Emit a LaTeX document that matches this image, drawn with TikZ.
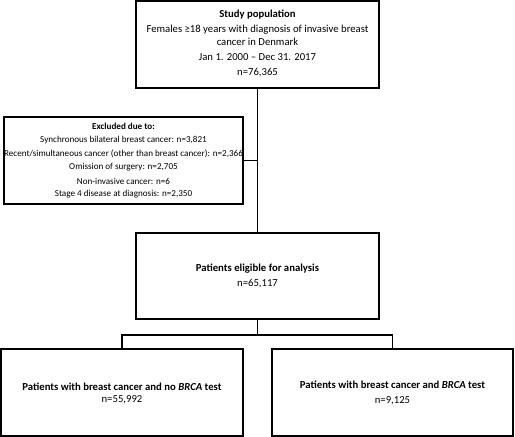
\documentclass[tikz,border=0pt]{standalone}
\usepackage{fontspec}
\setmainfont{Carlito}
\begin{document}
\begin{tikzpicture}[x=1pt,y=-1pt,
  boxstyle/.style={draw, line width=1.1pt, inner sep=0pt, fill=white},
  txt/.style={inner sep=0pt, font=\fontsize{10.7}{12}\selectfont},
  boldtxt/.style={inner sep=0pt, font=\fontsize{10.7}{12}\selectfont\bfseries},
  smalltxt/.style={inner sep=0pt, font=\fontsize{9.1}{11}\selectfont},
  smallbold/.style={inner sep=0pt, font=\fontsize{9.1}{11}\selectfont\bfseries},
  link/.style={line width=1.1pt}]
\useasboundingbox (0,0) rectangle (515,437);
% boxes
\node[boxstyle, minimum width=243pt, minimum height=87pt] (top) at (257.5,44.5) {};
\node[boxstyle, minimum width=239pt, minimum height=87pt] (excl) at (123.5,160.5) {};
\node[boxstyle, minimum width=243pt, minimum height=86pt] (elig) at (257.5,276) {};
\node[boxstyle, minimum width=242pt, minimum height=87pt] (nobrca) at (122,392.5) {};
\node[boxstyle, minimum width=241pt, minimum height=87pt] (brca) at (392.5,392.5) {};
% connectors
\draw[link] (top.south) -- (elig.north);
\draw[link] (excl.east) -- (excl.east -| top.south);
\coordinate (split) at (257.5,335);
\draw[link] (elig.south) -- (split);
\draw[link] (split) -- (split -| nobrca.north) -- (nobrca.north);
\draw[link] (split) -- (split -| brca.north) -- (brca.north);
% top text
\node[boldtxt] (t1) at (257.5,15) {Study population};
\node[txt] (t2) at (257.5,29.5) {Females ≥18 years with diagnosis of invasive breast};
\node[txt] (t3) at (257.5,42) {cancer in Denmark};
\node[txt] (t4) at (257.5,57.5) {Jan 1. 2000 – Dec 31. 2017};
\node[txt] (t5) at (257.5,73) {n=76,365};
% excluded text
\node[smallbold] (e1) at (123.5,126) {Excluded due to:};
\node[smalltxt] (e2) at (123.5,140) {Synchronous bilateral breast cancer: n=3,821};
\node[smalltxt] (e3) at (123.5,154) {Recent/simultaneous cancer (other than breast cancer): n=2,366};
\node[smalltxt] (e4) at (123.5,167.5) {Omission of surgery: n=2,705};
\node[smalltxt] (e5) at (123.5,181) {Non-invasive cancer: n=6};
\node[smalltxt] (e6) at (123.5,194.5) {Stage 4 disease at diagnosis: n=2,350};
% eligible text
\node[boldtxt] (g1) at (257.5,269) {Patients eligible for analysis};
\node[txt] (g2) at (257.5,284) {n=65,117};
% bottom texts
\node[boldtxt] (l1) at (122,387) {Patients with breast cancer and no \textit{BRCA} test};
\node[txt] (l2) at (122,400) {n=55,992};
\node[boldtxt] (r1) at (392.5,385) {Patients with breast cancer and \textit{BRCA} test};
\node[txt] (r2) at (392.5,401) {n=9,125};
\end{tikzpicture}
\end{document}
